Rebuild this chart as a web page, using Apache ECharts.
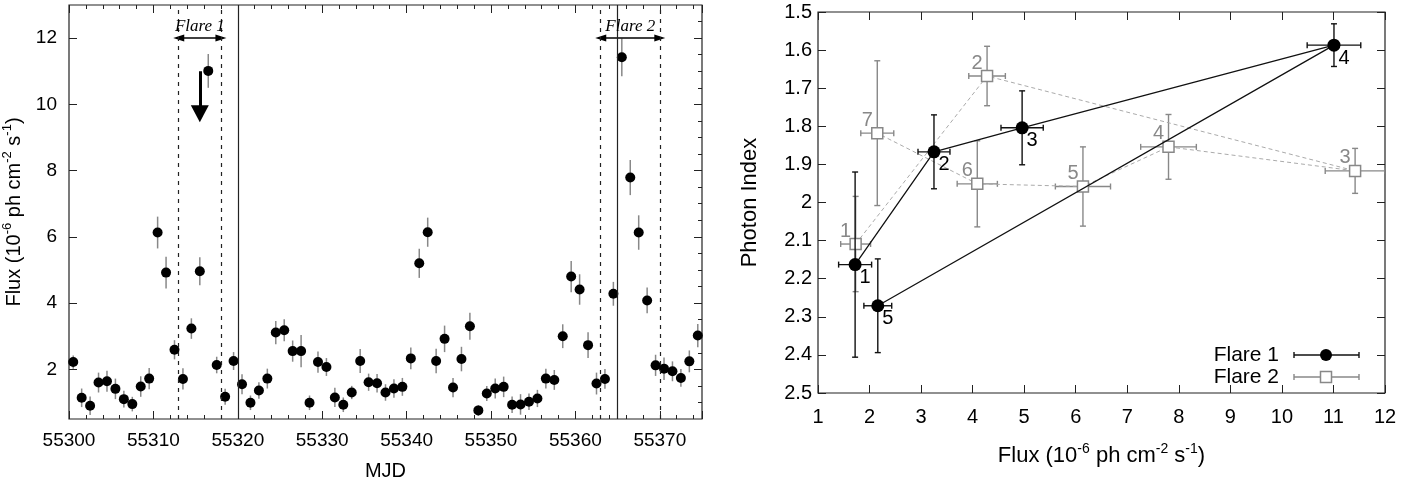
<!DOCTYPE html>
<html>
<head>
<meta charset="utf-8">
<script src="https://cdn.jsdelivr.net/npm/echarts@6/dist/echarts.min.js"></script>
<style>
html, body { margin: 0; padding: 0; background: #fff; }
#chart { width: 1403px; height: 486px; }
</style>
</head>
<body>
<div id="chart"></div>
<script>
// light curve (left panel)
let mjd = [55300.5, 55301.5, 55302.5, 55303.5, 55304.5, 55305.5, 55306.5, 55307.5, 55308.5, 55309.5,
	55310.5, 55311.5, 55312.5, 55313.5, 55314.5, 55315.5, 55316.5, 55317.5, 55318.5, 55319.5,
	55320.5, 55321.5, 55322.5, 55323.5, 55324.5, 55325.5, 55326.5, 55327.5, 55328.5, 55329.5,
	55330.5, 55331.5, 55332.5, 55333.5, 55334.5, 55335.5, 55336.5, 55337.5, 55338.5, 55339.5,
	55340.5, 55341.5, 55342.5, 55343.5, 55344.5, 55345.5, 55346.5, 55347.5, 55348.5, 55349.5,
	55350.5, 55351.5, 55352.5, 55353.5, 55354.5, 55355.5, 55356.5, 55357.5, 55358.5, 55359.5,
	55360.5, 55361.5, 55362.5, 55363.5, 55364.5, 55365.5, 55366.5, 55367.5, 55368.5, 55369.5,
	55370.5, 55371.5, 55372.5, 55373.5, 55374.5];
let flux = [2.22, 1.14, 0.90, 1.60, 1.64, 1.41, 1.10, 0.95, 1.48, 1.72,
	6.13, 4.92, 2.59, 1.71, 3.23, 4.96, 11.01, 2.13, 1.17, 2.25,
	1.55, 0.99, 1.36, 1.72, 3.11, 3.18, 2.55, 2.55, 0.99, 2.22,
	2.07, 1.15, 0.93, 1.30, 2.25, 1.61, 1.58, 1.30, 1.42, 1.47,
	2.33, 5.20, 6.14, 2.25, 2.92, 1.45, 2.31, 3.30, 0.76, 1.27,
	1.42, 1.47, 0.93, 0.94, 1.02, 1.12, 1.72, 1.68, 3.00, 4.80,
	4.41, 2.73, 1.57, 1.71, 4.28, 11.42, 7.79, 6.13, 4.08, 2.12,
	2.02, 1.94, 1.74, 2.24, 3.02];
let fluxErr = [0.20, 0.28, 0.28, 0.30, 0.32, 0.31, 0.25, 0.22, 0.31, 0.32,
	0.48, 0.48, 0.29, 0.32, 0.31, 0.42, 0.51, 0.25, 0.24, 0.27,
	0.30, 0.22, 0.25, 0.30, 0.35, 0.33, 0.32, 0.49, 0.22, 0.32,
	0.27, 0.29, 0.22, 0.20, 0.36, 0.26, 0.28, 0.25, 0.28, 0.27,
	0.33, 0.44, 0.44, 0.37, 0.40, 0.29, 0.37, 0.41, 0.16, 0.23,
	0.30, 0.31, 0.25, 0.31, 0.25, 0.26, 0.30, 0.30, 0.36, 0.47,
	0.46, 0.39, 0.33, 0.30, 0.36, 0.57, 0.53, 0.52, 0.39, 0.32,
	0.34, 0.30, 0.27, 0.33, 0.35];

// flare windows and markers
let flareNames = ["Flare 1", "Flare 2"];
let flareStart = [55313, 55363];
let flareEnd = [55318, 55370];
let solidLines = [55320, 55365];
let arrowLevel = 12;
let downArrow = {mjd: 55315.5, from: 11.0, to: 9.72};

let lcYMajor = [2, 4, 6, 8, 10, 12];
let lcYMinor = [1, 1.5, 2.5, 3, 3.5, 4.5, 5, 5.5, 6.5, 7, 7.5, 8.5, 9, 9.5, 10.5, 11, 11.5, 12.5];

// photon index vs flux (right panel)
let flare1Flux = [1.72, 3.25, 4.96, 11.01, 2.16];
let flare1FluxErr = [0.32, 0.31, 0.41, 0.52, 0.27];
let flare1Index = [2.163, 1.867, 1.804, 1.587, 2.271];
let flare1IndexErr = [0.243, 0.097, 0.097, 0.056, 0.123];
let flare1Labels = ["1", "2", "3", "4", "5"];

let flare2Flux = [1.73, 4.28, 11.42, 7.80, 6.14, 4.09, 2.15];
let flare2FluxErr = [0.29, 0.355, 0.58, 0.54, 0.535, 0.39, 0.32];
let flare2Index = [2.109, 1.668, 1.917, 1.854, 1.958, 1.951, 1.818];
let flare2IndexErr = [0.125, 0.078, 0.059, 0.085, 0.104, 0.113, 0.19];
let flare2Labels = ["1", "2", "3", "4", "5", "6", "7"];

const font = "Liberation Sans";
const grey = "#888";
const frame = "#222";

let chart = echarts.init(document.getElementById("chart"));

function supRich(size) {
	return {
		b: {fontSize: size, fontFamily: font, color: "#000"},
		s: {fontSize: Math.round(size * 0.65), fontFamily: font, color: "#000", padding: [0, 0, 14, 0]}
	};
}
let fluxTitle = "{b|Flux (10}{s|-6}{b| ph cm}{s|-2}{b| s}{s|-1}{b|)}";

function tickAxis(extra) {
	return Object.assign({
		type: "value",
		axisLine: {show: false},
		splitLine: {show: false},
		axisTick: {show: true, inside: true, length: 8, lineStyle: {color: frame, width: 1}},
		axisLabel: {show: false}
	}, extra);
}

let labelStyle = {fontSize: 19, fontFamily: font, color: "#000"};

function errRenderer(color, cap) {
	return function(params, api) {
		let x = api.value(0), y = api.value(1), ex = api.value(2), ey = api.value(3);
		let l = api.coord([x - ex, y]), r = api.coord([x + ex, y]);
		let t = api.coord([x, y - ey]), b = api.coord([x, y + ey]);
		let st = {stroke: color, lineWidth: 1.4};
		return {type: "group", children: [
			{type: "line", shape: {x1: l[0], y1: l[1], x2: r[0], y2: r[1]}, style: st},
			{type: "line", shape: {x1: l[0], y1: l[1] - cap, x2: l[0], y2: l[1] + cap}, style: st},
			{type: "line", shape: {x1: r[0], y1: r[1] - cap, x2: r[0], y2: r[1] + cap}, style: st},
			{type: "line", shape: {x1: t[0], y1: t[1], x2: b[0], y2: b[1]}, style: st},
			{type: "line", shape: {x1: t[0] - cap, y1: t[1], x2: t[0] + cap, y2: t[1]}, style: st},
			{type: "line", shape: {x1: b[0] - cap, y1: b[1], x2: b[0] + cap, y2: b[1]}, style: st}
		]};
	};
}

let vLines = [];
flareStart.concat(flareEnd).forEach(v => vLines.push({xAxis: v, lineStyle: {type: [4, 5], color: frame, width: 1.2}}));
solidLines.forEach(v => vLines.push({xAxis: v, lineStyle: {type: "solid", color: frame, width: 1.2}}));

let arrows = flareNames.map((name, i) => [
	{coord: [flareStart[i], arrowLevel], symbol: "triangle", symbolSize: [7, 11], name: name},
	{coord: [flareEnd[i], arrowLevel], symbol: "triangle", symbolSize: [7, 11]}
]);
arrows.push([
	{coord: [downArrow.mjd, downArrow.from], symbol: "none", lineStyle: {width: 3}, label: {show: false}},
	{coord: [downArrow.mjd, downArrow.to], symbol: "triangle", symbolSize: [18, 17]}
]);

chart.setOption({
	animation: false,
	grid: [
		{left: 66, top: 5, width: 636, height: 420, show: true, borderColor: frame, borderWidth: 1.2},
		{left: 818, top: 12, width: 567, height: 381, show: true, borderColor: frame, borderWidth: 1.2}
	],
	xAxis: [
		tickAxis({gridIndex: 0, min: 55300, max: 55375, interval: 10,
			minorTick: {show: true, splitNumber: 5, length: 4, lineStyle: {color: frame}},
			axisLabel: Object.assign({show: true, margin: 12, showMaxLabel: false, formatter: v => String(v)}, labelStyle),
			name: "MJD", nameLocation: "middle", nameGap: 42,
			nameTextStyle: {fontSize: 20, fontFamily: font, color: "#000"}}),
		tickAxis({gridIndex: 0, position: "top", min: 55300, max: 55375, interval: 10,
			minorTick: {show: true, splitNumber: 5, length: 4, lineStyle: {color: frame}}}),
		tickAxis({gridIndex: 1, min: 1, max: 12, interval: 1,
			axisLabel: Object.assign({show: true, margin: 14}, labelStyle, {fontSize: 20}),
			name: fluxTitle, nameLocation: "middle", nameGap: 49,
			nameTextStyle: {rich: supRich(22)}}),
		tickAxis({gridIndex: 1, position: "top", min: 1, max: 12, interval: 1})
	],
	yAxis: [
		tickAxis({gridIndex: 0, min: 0.5, max: 13,
			axisTick: {show: true, inside: true, length: 8, customValues: lcYMajor, lineStyle: {color: frame}},
			axisLabel: Object.assign({show: true, margin: 12, customValues: lcYMajor}, labelStyle),
			name: fluxTitle, nameLocation: "middle", nameGap: 41,
			nameTextStyle: {rich: supRich(20)}}),
		tickAxis({gridIndex: 0, min: 0.5, max: 13,
			axisTick: {show: true, inside: true, length: 4, customValues: lcYMinor, lineStyle: {color: frame}}}),
		tickAxis({gridIndex: 0, position: "right", min: 0.5, max: 13,
			axisTick: {show: true, inside: true, length: 8, customValues: lcYMajor, lineStyle: {color: frame}}}),
		tickAxis({gridIndex: 0, position: "right", min: 0.5, max: 13,
			axisTick: {show: true, inside: true, length: 4, customValues: lcYMinor, lineStyle: {color: frame}}}),
		tickAxis({gridIndex: 1, min: 1.5, max: 2.5, interval: 0.1, inverse: true,
			axisLabel: Object.assign({show: true, margin: 6, formatter: v => String(+v.toFixed(1))}, labelStyle, {fontSize: 20}),
			name: "Photon Index", nameLocation: "middle", nameGap: 57,
			nameTextStyle: {fontSize: 22, fontFamily: font, color: "#000"}}),
		tickAxis({gridIndex: 1, position: "right", min: 1.5, max: 2.5, interval: 0.1, inverse: true})
	],
	series: [
		{
			type: "custom", xAxisIndex: 0, yAxisIndex: 0, z: 2,
			data: mjd.map((m, i) => [m, flux[i], fluxErr[i]]),
			renderItem: function(params, api) {
				let a = api.coord([api.value(0), api.value(1) - api.value(2)]);
				let b = api.coord([api.value(0), api.value(1) + api.value(2)]);
				return {type: "line", shape: {x1: a[0], y1: a[1], x2: b[0], y2: b[1]},
					style: {stroke: grey, lineWidth: 1.5}};
			},
			markLine: {
				silent: true, symbol: "none", animation: false,
				lineStyle: {color: "#000", width: 1.5, type: "solid"},
				label: {show: true, position: "insideMiddleTop", distance: 3, formatter: p => p.name,
					fontFamily: "Liberation Serif", fontStyle: "italic", fontSize: 17, color: "#000"},
				data: arrows
			}
		},
		{
			type: "scatter", xAxisIndex: 0, yAxisIndex: 0, z: 3,
			symbol: "circle", symbolSize: 10,
			itemStyle: {color: "#000", opacity: 1},
			data: mjd.map((m, i) => [m, flux[i]]),
			markLine: {silent: true, symbol: "none", animation: false, label: {show: false}, data: vLines}
		},
		{
			type: "custom", xAxisIndex: 2, yAxisIndex: 4, z: 4, clip: true,
			data: flare2Flux.map((f, i) => [f, flare2Index[i], flare2FluxErr[i], flare2IndexErr[i]]),
			renderItem: errRenderer(grey, 3)
		},
		{
			type: "line", name: "Flare 2", xAxisIndex: 2, yAxisIndex: 4, z: 5,
			data: flare2Flux.map((f, i) => [f, flare2Index[i]]),
			symbol: "rect", symbolSize: 11, showAllSymbol: true,
			lineStyle: {color: "#aaa", width: 1, type: [4, 3]},
			itemStyle: {color: "#fff", borderColor: grey, borderWidth: 1.5},
			label: {show: true, position: "inside", offset: [-10, -13], formatter: p => flare2Labels[p.dataIndex],
				fontSize: 20, fontFamily: font, color: grey}
		},
		{
			type: "custom", xAxisIndex: 2, yAxisIndex: 4, z: 6, clip: true,
			data: flare1Flux.map((f, i) => [f, flare1Index[i], flare1FluxErr[i], flare1IndexErr[i]]),
			renderItem: errRenderer("#111", 3)
		},
		{
			type: "line", name: "Flare 1", xAxisIndex: 2, yAxisIndex: 4, z: 7,
			data: flare1Flux.map((f, i) => [f, flare1Index[i]]),
			symbol: "circle", symbolSize: 13, showAllSymbol: true,
			lineStyle: {color: "#111", width: 1.3},
			itemStyle: {color: "#000"},
			label: {show: true, position: "inside", offset: [10, 13], formatter: p => flare1Labels[p.dataIndex],
				fontSize: 20, fontFamily: font, color: "#000"}
		}
	],
	graphic: [
		{type: "text", x: 1279, y: 355, style: {text: "Flare 1", align: "right", verticalAlign: "middle", fontSize: 21, fontFamily: font, fill: "#000"}},
		{type: "line", shape: {x1: 1294, y1: 355, x2: 1359, y2: 355}, style: {stroke: "#111", lineWidth: 1.4}},
		{type: "line", shape: {x1: 1294, y1: 352, x2: 1294, y2: 358}, style: {stroke: "#111", lineWidth: 1.4}},
		{type: "line", shape: {x1: 1359, y1: 352, x2: 1359, y2: 358}, style: {stroke: "#111", lineWidth: 1.4}},
		{type: "circle", shape: {cx: 1326, cy: 355, r: 6}, style: {fill: "#000"}},
		{type: "text", x: 1279, y: 377, style: {text: "Flare 2", align: "right", verticalAlign: "middle", fontSize: 21, fontFamily: font, fill: "#000"}},
		{type: "line", shape: {x1: 1294, y1: 377, x2: 1359, y2: 377}, style: {stroke: grey, lineWidth: 1.4}},
		{type: "line", shape: {x1: 1294, y1: 374, x2: 1294, y2: 380}, style: {stroke: grey, lineWidth: 1.4}},
		{type: "line", shape: {x1: 1359, y1: 374, x2: 1359, y2: 380}, style: {stroke: grey, lineWidth: 1.4}},
		{type: "rect", shape: {x: 1320.5, y: 371.5, width: 11, height: 11}, style: {fill: "#fff", stroke: grey, lineWidth: 1.5}}
	]
});
</script>
</body>
</html>
